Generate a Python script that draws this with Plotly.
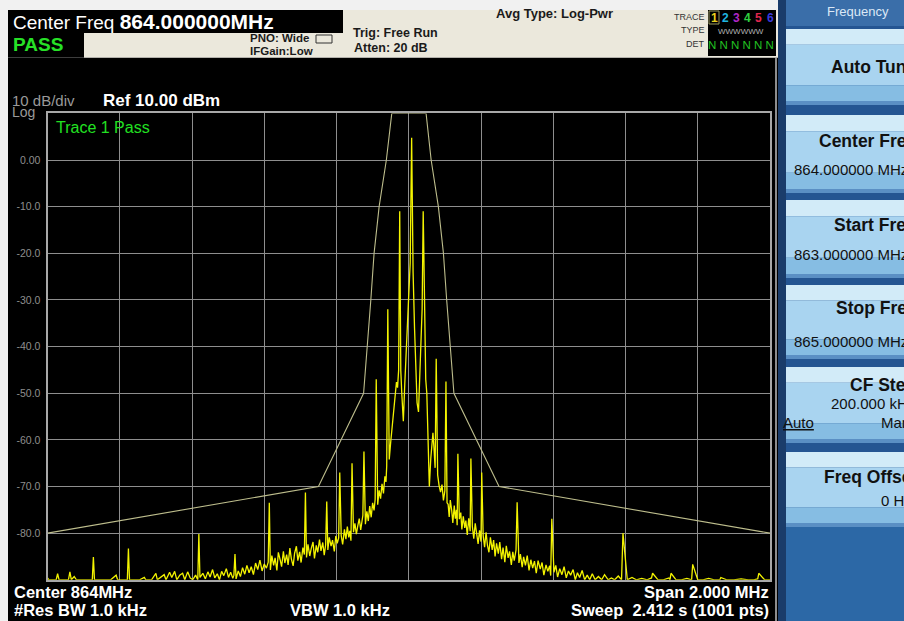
import plotly.graph_objects as go

W, H = 904, 621
FONT = "Liberation Sans, Arial, sans-serif"

# ---------------- data ----------------
center_mhz = 864.0
start_mhz = 863.0
stop_mhz = 865.0
ref_dbm = 10.0
bottom_dbm = -90.0

x_grid_mhz = [863.2, 863.4, 863.6, 863.8, 864.0, 864.2, 864.4, 864.6, 864.8]
y_tick_vals = [0, -10, -20, -30, -40, -50, -60, -70, -80]
y_tick_text = ["0.00", "-10.0", "-20.0", "-30.0", "-40.0", "-50.0", "-60.0", "-70.0", "-80.0"]

# limit mask (offset from center, kHz) and level (dBm)
mask_offset_khz = [-1000, -250, -125, -114, -105, -96, -82, -62, -47,
                   48, 62, 82, 96, 105, 114, 125, 250, 1000]
mask_level_dbm = [-80, -70, -50, -40, -30, -20, -10, 0, 10,
                  10, 0, -10, -20, -30, -40, -50, -70, -80]

# trace 1 (offset from center, kHz) and level (dBm)
trace_offset_khz = [
    -1000, -996, -985, -976, -972, -968, -955, -942, -938, -934, -926, -920, -905, -890, -876, -873, -870,
    -855, -840, -825, -810, -806, -792, -779, -776, -773, -760, -745, -732, -728, -712, -700, -696, -684,
    -677, -672, -662, -656, -648, -642, -634, -626, -620, -612, -605,
    -598, -590, -584, -581, -578, -570, -563, -556, -550, -543, -537, -530, -524, -518, -512, -505, -499,
    -493, -487, -484, -481, -478, -472, -466, -460, -454, -448, -442, -436, -430, -424, -418, -412, -406,
    -400, -394,
    -389, -386, -383, -379, -374, -370, -365, -361, -356, -352, -347, -343, -338, -334, -329, -325, -320,
    -316, -311, -307, -302, -298, -293, -289, -286, -283, -279, -274, -270, -265, -261, -256, -252, -247,
    -243, -238, -234, -230, -227, -224, -220, -215, -211, -206, -202, -198, -194, -191,
    -187, -183, -178, -174, -170, -166, -163, -160, -157, -153, -149, -145, -141, -137, -133, -130, -127,
    -124, -120, -116, -112, -108, -104, -100, -96, -93, -90, -86, -82, -78, -74, -70, -66, -63, -61, -58,
    -54, -50, -46, -42, -38, -34, -31, -28,
    -25, -22, -19, -15, -11, -7, -3, 0, 4, 8, 12, 16, 20, 23, 27, 31, 34, 37, 40, 44, 47, 50, 53, 57, 61,
    65, 67, 70, 73, 76, 80, 84, 88, 92, 96, 100, 103,
    106, 109, 112, 115, 119, 122, 126, 129, 132, 134, 136, 140, 144, 147, 151, 155, 158, 162, 166, 170,
    172, 176, 180, 184, 188, 192, 196, 200, 202, 206, 210, 214, 218, 222, 226, 231, 235, 239, 243, 248,
    252, 257, 261, 266, 270, 275, 279, 284, 288, 292, 297, 300, 305, 309, 314, 318, 323, 328, 333, 338,
    343, 348, 353, 358, 364, 369, 374, 380, 385, 390, 393, 396, 402, 407, 412, 418, 424, 430, 436, 442,
    448, 455, 461, 467, 473, 480, 487, 494, 501, 508, 516, 525, 534, 542, 552, 561, 570, 580, 589, 593,
    605, 618, 630, 645, 660, 672, 675, 690, 705, 720, 723, 726, 740, 755, 770, 783, 786, 800, 815, 830,
    845, 861, 864, 880, 900, 920, 940, 955, 966, 969, 985, 1000,
]
trace_level_dbm = [
    -89.6, -90, -90, -90, -88.7, -90, -90, -90, -88.3, -90, -89.3, -90, -90, -90, -90, -85.1, -90,
    -90, -90, -90, -89.0, -90, -90, -90, -83.3, -90, -90, -90, -89.5, -90, -90, -88.6, -90, -89.2,
    -88.9, -90, -88.4, -89.5, -88.2, -90, -89.0, -88.6, -90, -88.3, -89.6,
    -90, -89.0, -90, -80.2, -89.5, -88.6, -89.8, -88.3, -89.4, -87.8, -89.6, -88.7, -90, -88.2, -89.1, -87.6, -89.5,
    -88.4, -89.7, -89.0, -84.5, -89.8, -88.1, -89.3, -87.4, -88.8, -86.9, -88.5, -87.2, -88.9, -86.4, -87.8, -85.8, -88.1,
    -86.6, -87.5,
    -86.2, -73.5, -87.9, -84.8, -86.9, -85.3, -88.0, -84.1, -85.7, -87.2, -83.9, -86.4, -84.6, -86.8, -83.2, -85.5, -87.0,
    -84.3, -82.8, -85.9, -84.0, -86.3, -83.1, -84.6, -71.3, -85.2, -82.4, -84.9, -83.3, -81.9, -85.4, -82.6, -84.1, -81.4,
    -83.8, -82.0, -84.7, -82.5, -73.2, -83.6, -80.9, -82.8, -81.5, -83.9, -80.6, -82.2, -81.0, -67.0, -80.5,
    -82.4, -79.2, -81.3, -78.6, -80.9, -79.5, -81.6, -65.0, -79.8, -77.9, -80.2, -78.4, -76.9, -79.3, -77.5, -76.2, -62.5,
    -78.1, -75.3, -77.4, -74.2, -76.6, -73.5, -75.1, -72.8, -47.0, -73.9, -70.8, -72.6, -69.4, -71.5, -67.8, -69.0, -65.6, -32.0, -64.2,
    -60.5, -57.2, -53.1, -50.4, -47.6, -48.8, -45.0, -11.0,
    -45.2, -50.5, -56.0, -48.0, -41.0, -35.0, -30.0, -22.0, 4.8, -24.0, -36.0, -46.5, -52.0, -54.0, -44.0, -36.0, -32.0, -11.0, -38.0, -47.0, -50.0, -58.0, -70.0, -64.0, -60.5,
    -58.5, -62.0, -66.0, -42.6, -67.5, -69.8, -71.2, -69.6, -73.0, -70.9, -47.5, -73.5,
    -73.8, -76.5, -72.9, -75.2, -77.8, -74.1, -76.9, -75.0, -78.3, -63.0, -77.0, -75.6, -79.2, -76.4, -78.9, -77.3, -80.4, -76.8, -79.6, -64.0,
    -78.5, -81.2, -77.9, -80.1, -82.3, -79.4, -81.8, -67.0, -80.5, -83.0, -79.8, -82.7, -84.1, -80.9, -83.6, -81.5, -85.0, -82.2, -84.4, -81.9,
    -85.6, -83.1, -86.2, -82.7, -85.3, -83.9, -86.8, -84.0, -85.9, -83.6, -73.4, -86.4, -84.5, -87.3, -85.1, -86.9, -84.8, -88.0, -85.7, -87.5,
    -86.0, -88.6, -85.9, -87.7, -86.3, -89.0, -86.8, -88.2, -87.0, -89.1, -76.9, -88.4, -86.9, -89.4, -87.6, -88.9, -87.2, -89.6, -88.1, -89.0,
    -87.8, -90, -88.5, -89.5, -88.0, -90, -89.0, -90, -88.7, -90, -89.3, -90, -88.9, -90, -89.6, -90, -89.2, -90, -80.0, -90,
    -89.5, -90, -89.7, -90, -89.6, -88.6, -90, -90, -89.6, -90, -88.6, -90, -90, -89.7, -90, -86.7, -90, -90, -89.7, -90,
    -90, -89.5, -90, -90, -89.8, -90, -90, -89.8, -88.6, -90, -90, -89.6,
]

# ---------------- figure ----------------
trace_x = [center_mhz + k / 1000.0 for k in trace_offset_khz]
mask_x = [center_mhz + k / 1000.0 for k in mask_offset_khz]

fig = go.Figure()
fig.add_trace(go.Scatter(x=mask_x, y=mask_level_dbm, mode="lines",
                         line=dict(color="#bdbd8c", width=1.1), hoverinfo="skip", showlegend=False))
fig.add_trace(go.Scatter(x=trace_x, y=trace_level_dbm, mode="lines",
                         line=dict(color="#f4f400", width=1.3), hoverinfo="skip", showlegend=False))

def px(x):
    return x / W

def py(y):
    return 1 - y / H

shapes = []
def rect(x0, y0, x1, y1, color, layer="below"):
    shapes.append(dict(type="rect", xref="paper", yref="paper", x0=px(x0), x1=px(x1), y0=py(y1), y1=py(y0),
                       fillcolor=color, layer=layer, line=dict(width=0)))

def outline(x0, y0, x1, y1, color):
    shapes.append(dict(type="rect", xref="paper", yref="paper", x0=px(x0), x1=px(x1), y0=py(y1), y1=py(y0),
                       line=dict(color=color, width=1), fillcolor="rgba(0,0,0,0)", layer="above"))

def hline(x0, x1, y, color, w=1, layer="below"):
    shapes.append(dict(type="line", xref="paper", yref="paper", x0=px(x0), x1=px(x1), y0=py(y), y1=py(y),
                       line=dict(color=color, width=w), layer=layer))

def vline(x, y0, y1, color, w=1, layer="below"):
    shapes.append(dict(type="line", xref="paper", yref="paper", x0=px(x), x1=px(x), y0=py(y0), y1=py(y1),
                       line=dict(color=color, width=w), layer=layer))

ann = []
def txt(x, y, s, size, color, bold=False, anchor="left", family=FONT):
    ann.append(dict(x=px(x), y=py(y), xref="paper", yref="paper", text=(f"<b>{s}</b>" if bold else s),
                    showarrow=False, xanchor=anchor, yanchor="middle", borderpad=0,
                    font=dict(size=size, color=color, family=family)))

# outer background pieces
rect(0, 0, 778, 10, "#f1f1f1")
rect(0, 0, 8, 621, "#f1f1f1")
# header
rect(8, 10, 778, 58, "#ebe8dc")
rect(8, 10, 343, 33, "#000000")
rect(8, 33, 84, 58, "#000000")
hline(8, 778, 58, "#7a7a7a", 1)
# screen
rect(8, 58, 778, 621, "#000000")
vline(776, 58, 621, "#bcbcbc", 1.5)

# softkey panel
rect(778, 0, 904, 621, "#245592")
rect(778, 0, 786, 621, "#1a3c6a")
rect(786, 0, 904, 26, "#3a6ea9")
buttons = [(29, 101), (115, 189), (200, 274), (285, 355), (367, 439), (452, 523)]
for (b0, b1) in buttons:
    hgt = b1 - b0
    rect(786, b0, 904, b0 + hgt * 0.22, "#d2ebf8")
    rect(786, b0 + hgt * 0.22, 904, b0 + hgt * 0.78, "#a9d4f0")
    rect(786, b0 + hgt * 0.78, 904, b1, "#86bde3")
    rect(786, b1, 904, b1 + 4, "#5a8fc4")
rect(786, 527, 904, 621, "#2c68a6")

# header text
txt(12, 21, "Center Freq <b><span style='font-size:21px'>864.000000MHz</span></b>", 19, "#ffffff")
txt(12, 45, "PASS", 19, "#27e027", bold=True)
txt(249, 38, "PNO: Wide", 11.5, "#1a1a1a", bold=True)
txt(249, 51, "IFGain:Low", 11.5, "#1a1a1a", bold=True)
outline(316, 35, 332, 43, "#333333")
txt(352, 33, "Trig: Free Run", 12.5, "#1a1a1a", bold=True)
txt(353, 48, "Atten: 20 dB", 12.5, "#1a1a1a", bold=True)
txt(495, 14, "Avg Type: Log-Pwr", 13, "#1a1a1a", bold=True)
txt(706, 17, "TRACE", 9, "#333333", anchor="right")
txt(706, 30, "TYPE", 9, "#333333", anchor="right")
txt(706, 44, "DET", 9, "#333333", anchor="right")
rect(708, 10, 776, 56, "#000000")
outline(709, 11, 719, 24, "#9a9a60")
for i, (d, c) in enumerate(zip("123456", ["#e8d21e", "#1fb4e0", "#b026c8", "#2fd040", "#e0264e", "#3a3adc"])):
    txt(714 + i * 11.2, 18, d, 12, c, bold=True, anchor="center")
txt(741, 31, "WWWWWW", 8, "#b4b4b4", anchor="center")
txt(741, 45, "N N N N N N", 11.5, "#22c022", anchor="center")

# graph text
txt(11, 100, "10 dB/div", 15, "#9a9a9a")
txt(11, 112, "Log", 14, "#9a9a9a")
txt(102, 100, "Ref 10.00 dBm", 17, "#ffffff", bold=True)
txt(55, 127, "Trace 1 Pass", 16, "#22e022")

# bottom text
txt(13, 592, "Center 864MHz", 16.5, "#ffffff", bold=True)
txt(13, 610, "#Res BW 1.0 kHz", 16.5, "#ffffff", bold=True)
txt(289, 610, "VBW 1.0 kHz", 16.5, "#ffffff", bold=True)
txt(770, 592, "Span 2.000 MHz", 16.5, "#ffffff", bold=True, anchor="right")
txt(770, 610, "Sweep  2.412 s (1001 pts)", 16.5, "#ffffff", bold=True, anchor="right")

# softkey text
txt(826, 12, "Frequency", 13, "#dbe8f6")
txt(830, 67, "Auto Tune", 17.5, "#111111", bold=True)
txt(818, 141, "Center Freq", 17.5, "#111111", bold=True)
txt(793, 169, "864.000000 MHz", 15, "#111111")
txt(833, 225, "Start Freq", 17.5, "#111111", bold=True)
txt(793, 254, "863.000000 MHz", 15, "#111111")
txt(835, 308, "Stop Freq", 17.5, "#111111", bold=True)
txt(793, 341, "865.000000 MHz", 15, "#111111")
txt(849, 385, "CF Step", 17.5, "#111111", bold=True)
txt(830, 403, "200.000 kHz", 15, "#111111")
txt(782, 422, "<u>Auto</u>", 15, "#111111")
txt(880, 422, "Man", 15, "#111111")
txt(823, 477, "Freq Offset", 17.5, "#111111", bold=True)
txt(880, 500, "0 Hz", 15, "#111111")

x0_px, x1_px = 47.5, 770.0
y0_px, y1_px = 113.4, 579.8

fig.update_layout(
    width=W, height=H, margin=dict(l=0, r=0, t=0, b=0),
    paper_bgcolor="#f1f1f1", plot_bgcolor="#000000",
    shapes=shapes, annotations=ann, showlegend=False,
    xaxis=dict(domain=[x0_px / W, x1_px / W], range=[start_mhz, stop_mhz],
               tickvals=x_grid_mhz, showticklabels=False, ticks="",
               showgrid=True, gridcolor="#8e8e8e", gridwidth=1, zeroline=False,
               showline=True, mirror=True, linecolor="#a8a8a8", linewidth=2),
    yaxis=dict(domain=[1 - y1_px / H, 1 - y0_px / H], range=[bottom_dbm, ref_dbm],
               tickvals=y_tick_vals, ticktext=y_tick_text, ticks="", ticklabelstandoff=3,
               tickfont=dict(size=10.5, color="#8e8e8e", family=FONT),
               showgrid=True, gridcolor="#8e8e8e", gridwidth=1, zeroline=False,
               showline=True, mirror=True, linecolor="#a8a8a8", linewidth=2),
)

fig.write_html("out.html", config={"displayModeBar": False},
               post_script="document.body.style.margin='0';document.body.style.overflow='hidden';")
